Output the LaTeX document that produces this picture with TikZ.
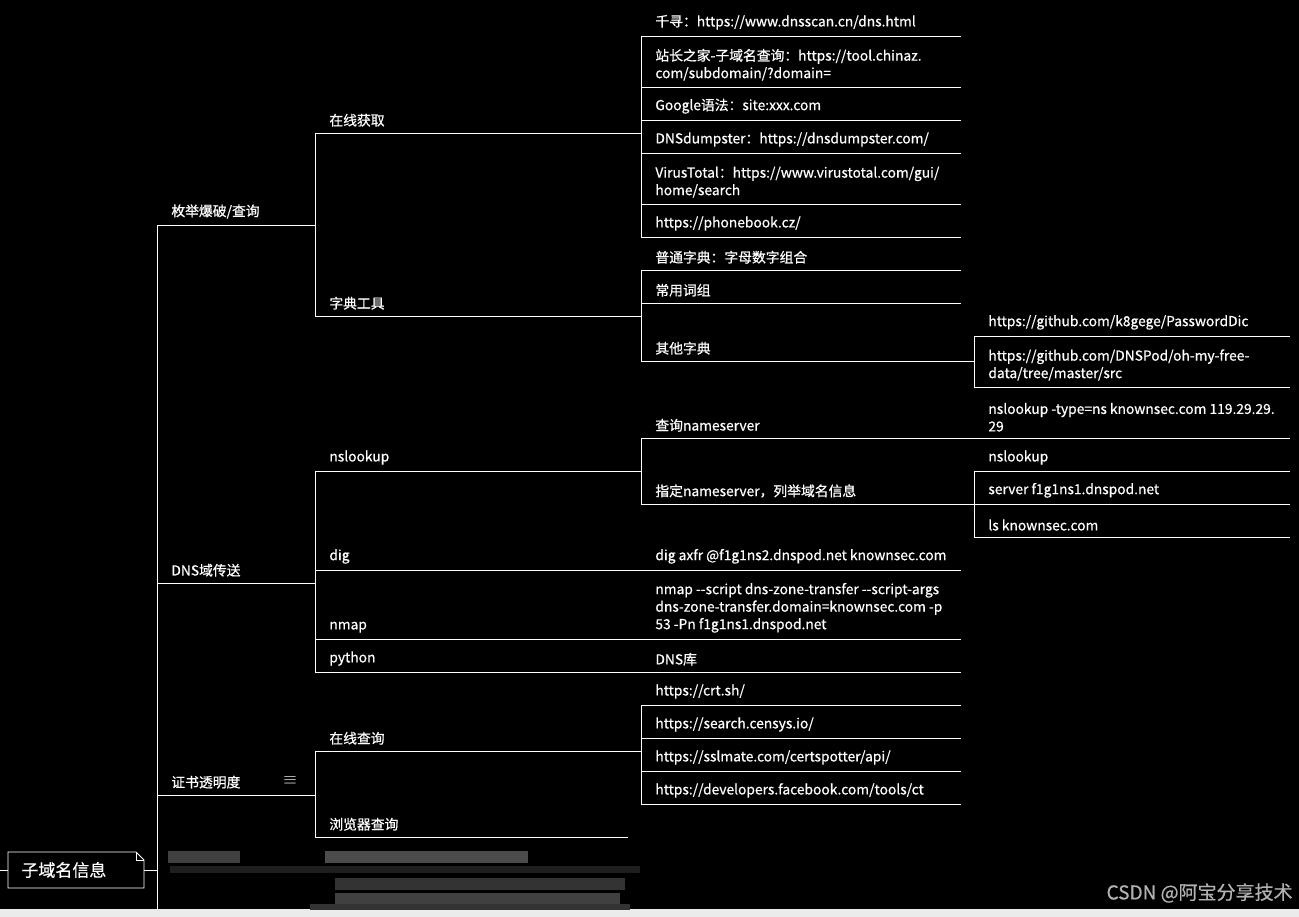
\documentclass[tikz,border=0pt]{standalone}
\usepackage{fontspec}
\setmainfont{Noto Sans CJK SC}[FakeBold=0.6]
\begin{document}
\begin{tikzpicture}[x=1pt,y=-1pt,line width=0.8pt,
  t/.style={anchor=south west,align=left,font=\fontsize{13.8}{17.5}\selectfont,text=white,inner sep=0pt}]
\fill[black] (0,0) rectangle (1299,917);
\useasboundingbox (0,0) rectangle (1299,917);
\fill[black!8] (0,909) rectangle (1299,917);
\newcommand\nd[5]{\node[t] (#1) at (#2+14,#4-6) {#5}; \draw[white] (#2,#4) -- (#3,#4);}
% root
\node[anchor=west,text=white,font=\fontsize{17}{20}\selectfont,inner sep=0] (root) at (21,870) {子域名信息};
\draw[white] (8,852) -- (136,852) -- (144,860) -- (144,888) -- (8,888) -- cycle;
\draw[white] (136,852) -- (136,860) -- (144,860);
\draw[white] (0,870) -- (8,870);
\draw[white] (144,870) -- (157,870);
\draw[white] (157,225) -- (157,910);
% blurred
\fill[black!75] (168,851) rectangle (240,863);
\fill[black!70] (325,851) rectangle (528,863);
\fill[black!88] (170,866) rectangle (640,873);
\fill[black!80] (335,878) rectangle (625,890);
\fill[black!75] (335,893) rectangle (620,904);
\fill[black!80] (310,904) rectangle (630,910);
% level 1
\nd{a}{157}{315}{225}{枚举爆破/查询}
\nd{b}{157}{315}{583}{DNS域传送}
\nd{c}{157}{315}{795}{证书透明度}
\node[text=white,font=\fontsize{16}{16}\selectfont,inner sep=0] (ic) at (290,780) {$\equiv$};
% level 2
\draw[white] (315,133) -- (315,316);
\nd{a1}{315}{641}{133}{在线获取}
\nd{a2}{315}{641}{316}{字典工具}
\draw[white] (315,471) -- (315,672);
\nd{b1}{315}{641}{471}{nslookup}
\nd{b2}{315}{641}{570}{dig}
\nd{b3}{315}{641}{639}{nmap}
\nd{b4}{315}{641}{672}{python}
\draw[white] (315,751) -- (315,837);
\nd{c1}{315}{641}{751}{在线查询}
\nd{c2}{315}{628}{837}{浏览器查询}
% level 3
\draw[white] (641,36) -- (641,237);
\nd{l1}{641}{961}{36}{千寻：https://www.dnsscan.cn/dns.html}
\nd{l2}{641}{961}{87}{站长之家-子域名查询：https://tool.chinaz.\\com/subdomain/?domain=}
\nd{l3}{641}{961}{120}{Google语法：site:xxx.com}
\nd{l4}{641}{961}{153}{DNSdumpster：https://dnsdumpster.com/}
\nd{l5}{641}{961}{204}{VirusTotal：https://www.virustotal.com/gui/\\home/search}
\nd{l6}{641}{961}{237}{https://phonebook.cz/}
\draw[white] (641,270) -- (641,361);
\nd{d1}{641}{961}{270}{普通字典：字母数字组合}
\nd{d2}{641}{961}{303}{常用词组}
\nd{d3}{641}{974}{361}{其他字典}
\draw[white] (641,438) -- (641,504);
\nd{n1}{641}{974}{438}{查询nameserver}
\nd{n2}{641}{974}{504}{指定nameserver，列举域名信息}
\nd{g1}{641}{961}{570}{dig axfr @f1g1ns2.dnspod.net knownsec.com}
\nd{m1}{641}{961}{639}{nmap {-}{-}script dns-zone-transfer {-}{-}script-args\\dns-zone-transfer.domain=knownsec.com -p\\53 -Pn f1g1ns1.dnspod.net}
\nd{p1}{641}{961}{672}{DNS库}
\draw[white] (641,705) -- (641,804);
\nd{s1}{641}{961}{705}{https://crt.sh/}
\nd{s2}{641}{961}{738}{https://search.censys.io/}
\nd{s3}{641}{961}{771}{https://sslmate.com/certspotter/api/}
\nd{s4}{641}{961}{804}{https://developers.facebook.com/tools/ct}
% level 4
\draw[white] (974,336) -- (974,387);
\nd{e1}{974}{1290}{336}{https://github.com/k8gege/PasswordDic}
\nd{e2}{974}{1290}{387}{https://github.com/DNSPod/oh-my-free-\\data/tree/master/src}
\nd{f1}{974}{1290}{438}{nslookup -type=ns knownsec.com 119.29.29.\\29}
\draw[white] (974,471) -- (974,537);
\nd{f2}{974}{1290}{471}{nslookup}
\nd{f3}{974}{1290}{504}{server f1g1ns1.dnspod.net}
\nd{f4}{974}{1290}{537}{ls knownsec.com}
\node[anchor=east,text=black!30,font=\fontsize{19}{22}\selectfont,inner sep=0] (wm) at (1293,893) {CSDN @阿宝分享技术};
\end{tikzpicture}
\end{document}
